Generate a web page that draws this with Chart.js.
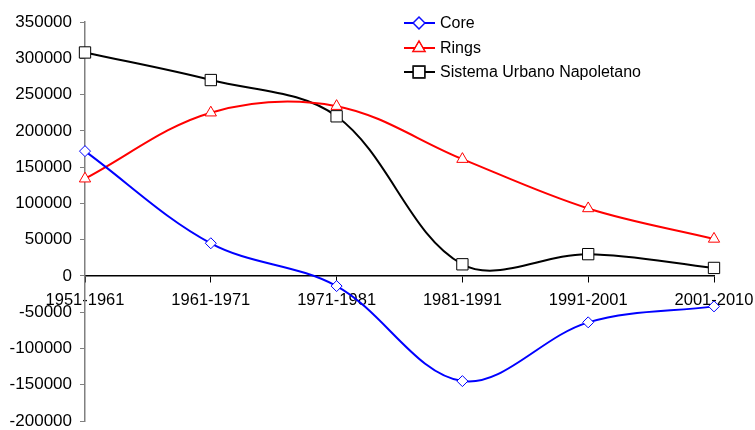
<!DOCTYPE html>
<html>
<head>
<meta charset="utf-8">
<script src="https://cdn.jsdelivr.net/npm/chart.js@4"></script>
<style>
  html, body { margin: 0; padding: 0; background: #fff; }
  #wrap { width: 755px; height: 430px; position: relative; }
</style>
</head>
<body>
<div id="wrap"><canvas id="chart"></canvas></div>
<script>
const periods = ["1951-1961", "1961-1971", "1971-1981", "1981-1991", "1991-2001", "2001-2010"];
const core = [172000, 45000, -14000, -145000, -64000, -42000];
const rings = [134000, 225000, 234000, 161000, 93000, 51000];
const sistema = [308000, 270000, 220000, 16000, 30000, 11000];
const yTicks = [-200000, -150000, -100000, -50000, 0, 50000, 100000, 150000, 200000, 250000, 300000, 350000];

const FONT = "'Liberation Sans', Arial, sans-serif";

// legend drawn inside the plot, Excel style (line with marker in the middle)
const insideLegend = {
    id: "insideLegend",
    afterDraw(chart) {
        const ctx = chart.ctx;
        const x0 = 404, x1 = 435, xm = 419;
        const rows = [23, 48, 72];
        ctx.save();
        chart.data.datasets.forEach((ds, i) => {
            const y = rows[i];
            ctx.strokeStyle = ds.borderColor;
            ctx.lineWidth = 2;
            ctx.beginPath();
            ctx.moveTo(x0, y);
            ctx.lineTo(x1, y);
            ctx.stroke();
            Chart.helpers.drawPoint(ctx, {
                pointStyle: ds.pointStyle,
                radius: ds.pointRadius,
                borderWidth: 1
            }, xm, y);
            ctx.fillStyle = "#fff";
            ctx.strokeStyle = ds.pointBorderColor;
            ctx.lineWidth = 1;
            ctx.fill();
            ctx.stroke();
            ctx.fillStyle = "#000";
            ctx.font = "16px " + FONT;
            ctx.textBaseline = "middle";
            ctx.fillText(ds.label, 440, y + 1);
        });
        ctx.restore();
    }
};

function noPad(scale) {
    scale.paddingTop = 0;
    scale.paddingBottom = 0;
    scale.paddingLeft = 0;
    scale.paddingRight = 0;
}

const ctx = document.getElementById("chart").getContext("2d");
new Chart(ctx, {
    type: "line",
    data: {
        labels: periods,
        datasets: [
            {
                label: "Core",
                data: core,
                borderColor: "#0000ff",
                pointBorderColor: "#0000ff",
                pointBackgroundColor: "#fff",
                pointStyle: "rectRot",
                pointRadius: 5.5
            },
            {
                label: "Rings",
                data: rings,
                borderColor: "#ff0000",
                pointBorderColor: "#ff0000",
                pointBackgroundColor: "#fff",
                pointStyle: "triangle",
                pointRadius: 6.5
            },
            {
                label: "Sistema Urbano Napoletano",
                data: sistema,
                borderColor: "#000000",
                pointBorderColor: "#000000",
                pointBackgroundColor: "#fff",
                pointStyle: "rect",
                pointRadius: 8
            }
        ]
    },
    options: {
        responsive: true,
        maintainAspectRatio: false,
        animation: false,
        layout: { padding: { left: 0, right: 41, top: 22, bottom: -4 } },
        elements: {
            line: { borderWidth: 2, tension: 0.35, fill: false },
            point: { borderWidth: 1, hoverRadius: 6 }
        },
        plugins: {
            legend: { display: false },
            tooltip: { enabled: false }
        },
        scales: {
            x: {
                position: { y: 0 },
                offset: false,
                afterFit(scale) { scale.height = 0; noPad(scale); },
                grid: { drawOnChartArea: false, color: "#000", tickLength: 6, tickWidth: 1 },
                border: { color: "#000", width: 1.5 },
                ticks: {
                    color: "#000",
                    font: { family: FONT, size: 16.5 },
                    padding: 9,
                    autoSkip: false,
                    maxRotation: 0
                }
            },
            y: {
                min: -200000,
                max: 350000,
                afterBuildTicks(scale) {
                    scale.ticks = yTicks.map(v => ({ value: v }));
                },
                afterFit(scale) { scale.width = 85; noPad(scale); },
                grid: { drawOnChartArea: false, color: "#808080", tickLength: 5 },
                border: { color: "#808080", width: 1.5 },
                ticks: {
                    color: "#000",
                    font: { family: FONT, size: 17 },
                    padding: 8,
                    callback: v => String(v)
                }
            }
        }
    },
    plugins: [insideLegend]
});
</script>
</body>
</html>
